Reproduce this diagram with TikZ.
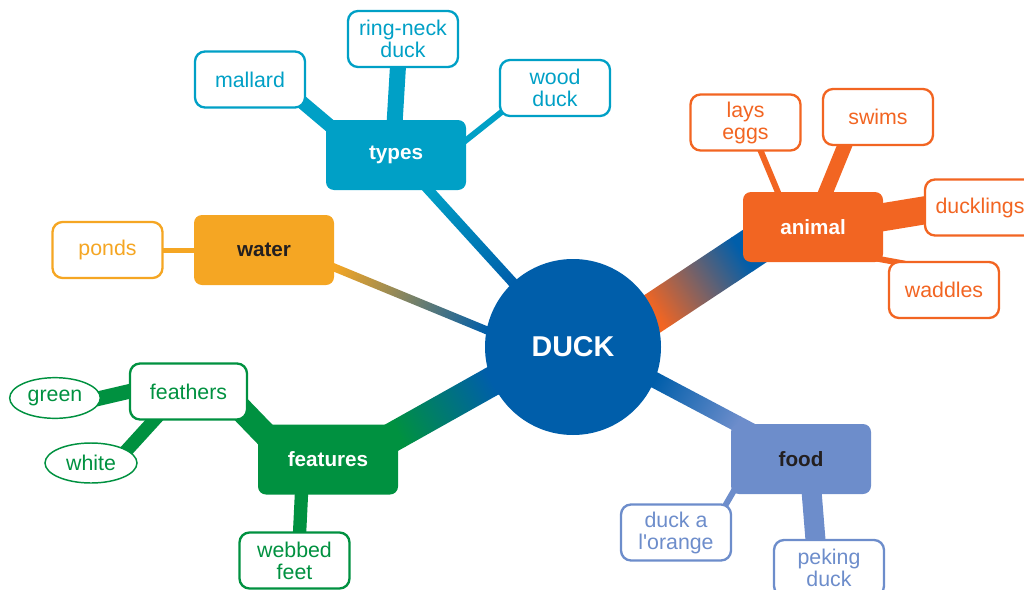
\documentclass[tikz,border=0pt]{standalone}
\usepackage{fontspec}
\setmainfont{Liberation Sans}
\usetikzlibrary{shapes.geometric,backgrounds,calc}

\definecolor{duckblue}{RGB}{0,94,170}
\definecolor{typescyan}{RGB}{0,160,198}
\definecolor{wateryellow}{RGB}{245,166,35}
\definecolor{animalorange}{RGB}{242,101,34}
\definecolor{foodblue}{RGB}{109,141,203}
\definecolor{foodlight}{RGB}{163,181,224}
\definecolor{featuregreen}{RGB}{0,145,64}
\definecolor{darktext}{RGB}{35,31,32}
\definecolor{watermid}{RGB}{155,128,128}
\definecolor{animalmid}{RGB}{140,100,125}

% shaded band from one anchor to another: from, to, width, colour at from, middle colour, colour at to
\newcommand\gradbranch[6]{%
  \path let \p1=($(#2)-(#1)$) in
    \pgfextra{\pgfmathsetmacro\branchangle{atan2(\y1,\x1)}%
      \pgfmathsetmacro\branchlength{veclen(\x1,\y1)}%
      \global\let\branchangle\branchangle
      \global\let\branchlength\branchlength};
  \begin{scope}[transform canvas={shift={(#1)},rotate=\branchangle}]
    \fill[#4] (-16pt,-#3/2) rectangle (0.5pt,#3/2);
    \fill[#6] (\branchlength pt-0.5pt,-#3/2) rectangle (\branchlength pt+16pt,#3/2);
    \shade[left color=#4, middle color=#5, right color=#6]
      (0pt,-#3/2) rectangle (\branchlength pt,#3/2);
  \end{scope}}

\begin{document}
\begin{tikzpicture}
[x=0.75pt, y=-0.75pt,
 every node/.style={inner sep=0pt, align=center},
 hub/.style={circle, minimum size=132pt, fill=duckblue, text=white, font=\fontsize{21.5}{24}\selectfont\bfseries},
 topic/.style={rectangle, rounded corners=6pt, minimum width=105pt, minimum height=52.5pt, fill=#1, font=\fontsize{15.5}{18}\selectfont\bfseries},
 leaf/.style={rectangle, rounded corners=7.5pt, draw=#1, text=#1, fill=white, line width=1.75pt, minimum width=82.5pt, minimum height=42pt, font=\fontsize{16}{16.5}\selectfont},
 leafoval/.style={ellipse, draw=#1, text=#1, fill=white, line width=1.1pt, minimum width=68pt, minimum height=30.5pt, font=\fontsize{16}{16.5}\selectfont},
 branch/.style={draw=#1, shorten <=-12pt, shorten >=-12pt}]
\useasboundingbox (0,0) rectangle (1024,589);

% centre
\node[hub] (duck) at (573,347) {DUCK};

% topics
\node[topic=typescyan, text=white] (types) at (396,155) {types};
\node[topic=wateryellow, text=darktext] (water) at (264,250) {water};
\node[topic=animalorange, text=white] (animal) at (813,227) {animal};
\node[topic=foodblue, text=darktext] (food) at (801,459) {food};
\node[topic=featuregreen, text=white] (features) at (328,459.5) {features};

% leaves
\node[leaf=typescyan] (mallard) at (250,79.5) {mallard};
\node[leaf=typescyan] (ringneck) at (403,39) {ring-neck\\duck};
\node[leaf=typescyan] (wood) at (555,88) {wood\\duck};
\node[leaf=wateryellow] (ponds) at (107.5,250) {ponds};
\node[leaf=animalorange] (layseggs) at (745.5,122.5) {lays\\eggs};
\node[leaf=animalorange] (swims) at (878,117) {swims};
\node[leaf=animalorange] (ducklings) at (980,207.5) {ducklings};
\node[leaf=animalorange] (waddles) at (944,290) {waddles};
\node[leaf=foodblue] (orange) at (676,532.5) {duck a\\l\textquotesingle orange};
\node[leaf=foodblue] (peking) at (829,568) {peking\\duck};
\node[leaf=featuregreen, minimum width=87.75pt] (feathers) at (188.5,391.5) {feathers};
\node[leaf=featuregreen] (webbed) at (294.5,560.5) {webbed\\feet};
\node[leafoval=featuregreen] (green) at (55,398) {green};
\node[leafoval=featuregreen, minimum width=69pt, minimum height=30pt] (white) at (91,463) {white};

\begin{pgfonlayer}{background}
% main branches
\gradbranch{types.-47}{duck.133}{7.5pt}{typescyan}{typescyan!50!duckblue}{duckblue}
\gradbranch{water.-14}{duck.169}{6pt}{wateryellow}{watermid}{duckblue}
\gradbranch{duck.23}{animal.201}{30pt}{animalorange}{animalmid}{duckblue}
\gradbranch{duck.-22}{food.151}{12pt}{duckblue}{foodlight}{foodblue}
\gradbranch{features.20}{duck.203}{22pt}{featuregreen}{featuregreen!50!duckblue}{duckblue}

% side branches
\draw[branch=typescyan, line width=10pt] (types.155) -- (mallard.-25);
\draw[branch=typescyan, line width=12pt] (types.92) -- (ringneck.260);
\draw[branch=typescyan, line width=4.5pt] (types.12) -- (wood.205);
\draw[branch=wateryellow, line width=3.75pt] (water.west) -- (ponds.east);
\draw[branch=animalorange, line width=4.5pt] (animal.135) -- (layseggs.-62);
\draw[branch=animalorange, line width=11pt] (animal.70) -- (swims.221);
\draw[branch=animalorange, line width=21pt] (animal.8) -- (ducklings.183);
\draw[branch=animalorange, line width=4.5pt] (animal.-25) -- (waddles.152);
\draw[branch=foodblue, line width=4.5pt] (food.207) -- (orange.30);
\draw[branch=foodblue, line width=15pt] (food.-73) -- (peking.115);
\draw[branch=featuregreen, line width=18pt] (features.155) -- (feathers.-23);
\draw[branch=featuregreen, line width=10pt] (features.233) -- (webbed.80);
\draw[branch=featuregreen, line width=11pt] (feathers.west) -- (green.east);
\draw[branch=featuregreen, line width=10pt] (feathers.220) -- (white.20);
\end{pgfonlayer}
\end{tikzpicture}
\end{document}
